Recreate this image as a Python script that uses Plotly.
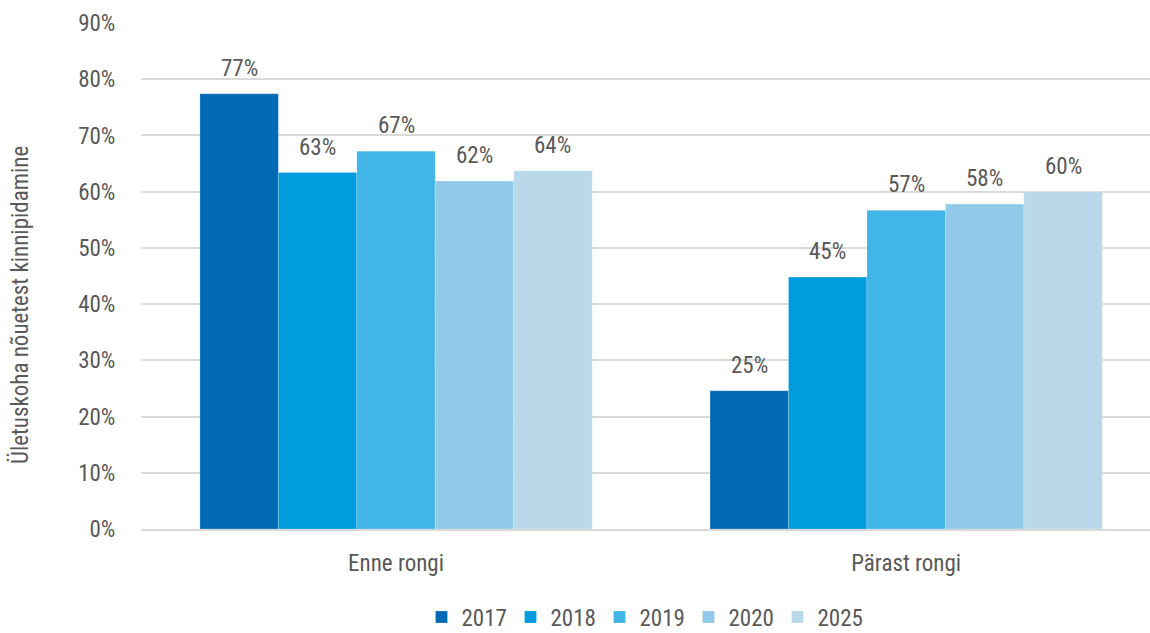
import plotly.graph_objects as go

# Compliance with crossing rules, before and after the train passes
categories = ["Enne rongi", "Pärast rongi"]
years = ["2017", "2018", "2019", "2020", "2025"]
values_2017 = [0.774, 0.246]
values_2018 = [0.634, 0.448]
values_2019 = [0.672, 0.567]
values_2020 = [0.619, 0.578]
values_2025 = [0.637, 0.600]
series = [values_2017, values_2018, values_2019, values_2020, values_2025]
colors = ["#006AB4", "#009CDE", "#41B6E6", "#91C9E8", "#B9D9EB"]
y_ticks = [0, 0.1, 0.2, 0.3, 0.4, 0.5, 0.6, 0.7, 0.8, 0.9]

FONT = "Roboto Condensed, Liberation Sans Narrow, Roboto, sans-serif"
TEXT = "#595959"
FS = 23

W, H = 1150, 633
M_L, M_R, M_T, M_B = 141, 0, 23, 104
plot_w = W - M_L - M_R
plot_h = H - M_T - M_B
x_range = [-0.5, 1.478]
px_per_cat = plot_w / (x_range[1] - x_range[0])
bargap = 0.231
bar_px = px_per_cat * (1 - bargap) / len(years)

fig = go.Figure()
for name, vals, col in zip(years, series, colors):
    fig.add_trace(go.Bar(
        name=name, x=categories, y=vals,
        marker=dict(color=col, line=dict(color="rgba(255,255,255,0.35)", width=0.6)),
    ))

# value labels above each bar
n = len(years)
for i, vals in enumerate(series):
    for cat, v in zip(categories, vals):
        fig.add_annotation(
            x=cat, y=v, text=f"{round(v * 100)}%", showarrow=False,
            xref="x", yref="y", yanchor="bottom",
            xshift=(i - (n - 1) / 2) * bar_px, yshift=10,
            font=dict(family=FONT, size=FS, color=TEXT),
        )

# y-axis title
fig.add_annotation(
    text="Ületuskoha nõuetest kinnipidamine", textangle=-90,
    xref="paper", yref="paper", x=-(M_L - 20) / plot_w, y=(529 - 305) / plot_h,
    xanchor="center", yanchor="middle", showarrow=False,
    font=dict(family=FONT, size=FS, color=TEXT),
)

fig.update_layout(
    width=W, height=H,
    margin=dict(l=M_L, r=M_R, t=M_T, b=M_B, autoexpand=False),
    paper_bgcolor="white", plot_bgcolor="white",
    barmode="group", bargap=bargap, bargroupgap=0,
    font=dict(family=FONT, color=TEXT, size=FS),
    showlegend=True,
    legend=dict(
        orientation="h", x=(644 - M_L) / plot_w, xanchor="center",
        y=-88 / plot_h, yanchor="middle",
        font=dict(family=FONT, size=FS, color=TEXT),
        itemwidth=30, traceorder="normal",
        entrywidth=44, entrywidthmode="pixels",
    ),
    xaxis=dict(
        range=x_range, showgrid=False, showline=True, linecolor="#D9D9D9", linewidth=2,
        ticks="outside", ticklen=12, tickcolor="rgba(0,0,0,0)",
        tickfont=dict(family=FONT, size=FS, color=TEXT),
    ),
    yaxis=dict(
        range=[0, 0.9], tickvals=y_ticks, tickformat=".0%",
        showgrid=True, gridcolor="#D9D9D9", gridwidth=2, zeroline=False,
        ticks="outside", ticklen=20, tickcolor="rgba(0,0,0,0)",
        tickfont=dict(family=FONT, size=FS, color=TEXT),
    ),
)

fig.write_html("out.html")
